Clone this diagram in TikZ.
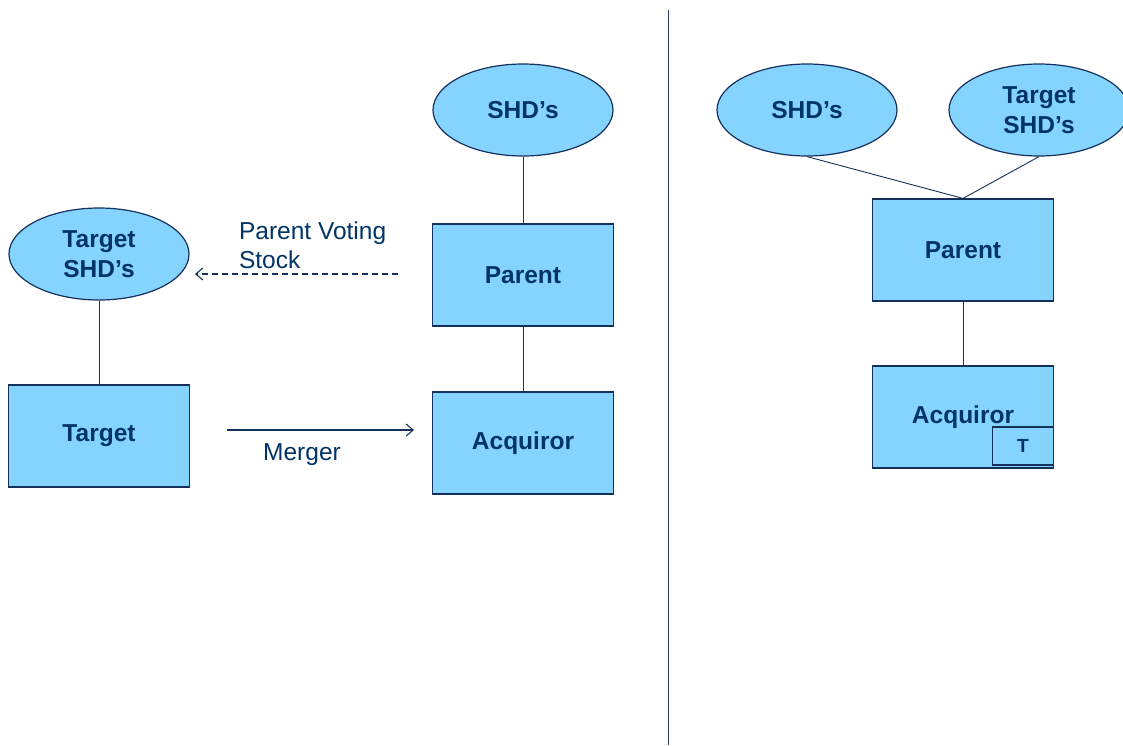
\documentclass[tikz,border=0pt]{standalone}
\usepackage{fontspec}
\setmainfont{Liberation Sans}
\usetikzlibrary{shapes.geometric,arrows.meta}
\definecolor{boxfill}{RGB}{133,212,255}
\definecolor{boxline}{RGB}{22,48,92}
\definecolor{navytext}{RGB}{0,51,102}

\begin{document}
\begin{tikzpicture}[x=1pt,y=-1pt,
  every node/.style={font=\fontsize{24.5}{29}\selectfont, text=navytext},
  entity/.style={draw=boxline, fill=boxfill, line width=1.2pt, minimum width=181pt,
    minimum height=102pt, inner sep=0pt, font=\bfseries\fontsize{24.5}{30}\selectfont},
  holder/.style={ellipse, draw=boxline, fill=boxfill, line width=1.2pt, minimum width=180pt,
    minimum height=92pt, inner sep=0pt, align=center, font=\bfseries\fontsize{24.5}{30}\selectfont},
  link/.style={draw=boxline, line width=0.9pt},
  flow/.style={draw=boxline, line width=1.1pt, -{Straight Barb[length=7pt,width=12pt]}}]
\useasboundingbox (0,0) rectangle (1123,745);
% divider
\draw[boxline!85!gray, line width=1pt] (668,10) -- (668,745);
% left half: before the merger
\node[holder] (shd) at (523,110) {SHD’s};
\node[entity] (par) at (523,275) {Parent};
\node[entity] (acq) at (523,443) {Acquiror};
\node[holder] (tshd) at (99,254) {Target\\SHD’s};
\node[entity] (tgt) at (99,436) {Target};
\draw[link] (shd) -- (par);
\draw[link] (par) -- (acq);
\draw[link] (tshd) -- (tgt);
\coordinate (stockfrom) at (398,274);
\coordinate (stockto) at (195,274);
\draw[flow, dash pattern=on 6pt off 4pt] (stockfrom) -- (stockto);
\node[anchor=west, align=left] (stock) at (235.5,245) {Parent Voting\\Stock};
\coordinate (mergefrom) at (227,430);
\coordinate (mergeto) at (414,430);
\draw[flow] (mergefrom) -- (mergeto);
\node (merger) at (302,455) {Merger};
% right half: after the merger
\node[holder] (rshd) at (807,110) {SHD’s};
\node[holder] (rtshd) at (1039,110) {Target\\SHD’s};
\node[entity] (rpar) at (963,250) {Parent};
\node[entity] (racq) at (963,417) {Acquiror};
\node[draw=boxline, line width=1.2pt, minimum width=61pt, minimum height=38pt, inner sep=0pt,
  font=\bfseries\fontsize{19}{23}\selectfont] (tsub) at (1023,446) {T};
\draw[link] (rshd.south) -- (rpar.north);
\draw[link] (rtshd.south) -- (rpar.north);
\draw[link] (rpar) -- (racq);
\end{tikzpicture}
\end{document}
